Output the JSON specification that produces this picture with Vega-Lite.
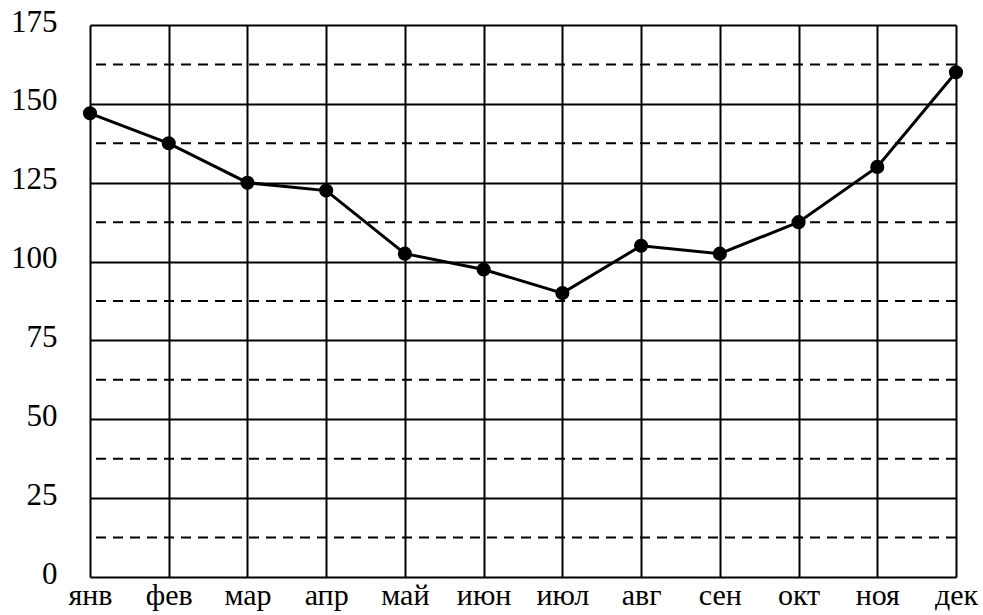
{
  "$schema": "https://vega.github.io/schema/vega-lite/v6.json",
  "width": 866,
  "height": 552,
  "autosize": {"type": "none"},
  "padding": {"left": 90, "top": 25, "right": 27, "bottom": 38},
  "background": "white",
  "config": {"view": {"stroke": null}, "font": "Liberation Serif"},
  "datasets": {
    "months": [
      {"month": "янв", "value": 147},
      {"month": "фев", "value": 137.5},
      {"month": "мар", "value": 125},
      {"month": "апр", "value": 122.5},
      {"month": "май", "value": 102.5},
      {"month": "июн", "value": 97.5},
      {"month": "июл", "value": 90},
      {"month": "авг", "value": 105},
      {"month": "сен", "value": 102.5},
      {"month": "окт", "value": 112.5},
      {"month": "ноя", "value": 130},
      {"month": "дек", "value": 160}
    ],
    "dashed": [
      {"level": 12.5}, {"level": 37.5}, {"level": 62.5}, {"level": 87.5},
      {"level": 112.5}, {"level": 137.5}, {"level": 162.5}
    ]
  },
  "layer": [
    {
      "data": {"name": "dashed"},
      "mark": {"type": "rule", "color": "black", "strokeWidth": 2, "strokeDash": [10, 7]},
      "encoding": {
        "y": {"field": "level", "type": "quantitative", "scale": {"domain": [0, 175], "nice": false}}
      }
    },
    {
      "data": {"name": "months"},
      "mark": {"type": "line", "color": "black", "strokeWidth": 3},
      "encoding": {
        "x": {
          "field": "month", "type": "ordinal", "sort": null,
          "scale": {"type": "point", "padding": 0},
          "axis": {
            "title": null, "domain": false, "ticks": false, "labelAngle": 0,
            "labelFontSize": 30, "labelColor": "black", "labelPadding": 3,
            "labelFont": "Liberation Serif",
            "grid": true, "gridColor": "black", "gridWidth": 2, "gridOpacity": 1
          }
        },
        "y": {
          "field": "value", "type": "quantitative",
          "scale": {"domain": [0, 175], "nice": false},
          "axis": {
            "title": null, "domain": false, "ticks": false,
            "values": [0, 25, 50, 75, 100, 125, 150, 175],
            "labelFontSize": 31, "labelColor": "black", "labelPadding": 33,
            "labelFont": "Liberation Serif", "labelOffset": -3,
            "grid": true, "gridColor": "black", "gridWidth": 2, "gridOpacity": 1
          }
        }
      }
    },
    {
      "data": {"name": "months"},
      "mark": {"type": "point", "filled": true, "color": "black", "opacity": 1, "size": 200},
      "encoding": {
        "x": {"field": "month", "type": "ordinal", "sort": null, "scale": {"type": "point", "padding": 0}},
        "y": {"field": "value", "type": "quantitative"}
      }
    }
  ]
}
